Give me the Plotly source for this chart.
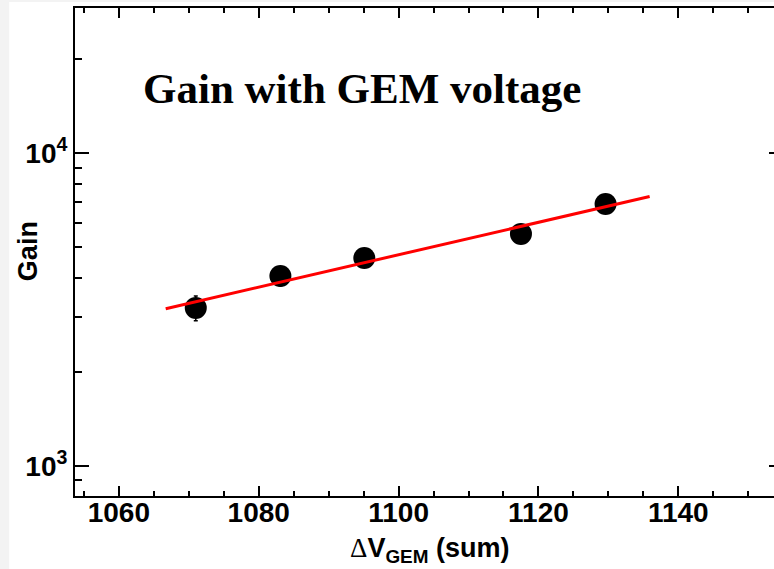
import numpy as np
import plotly.graph_objects as go

# Summed GEM voltage (V) and measured effective gain
voltage = [1071.0, 1083.1, 1095.1, 1117.5, 1129.6]
gain = [3200, 4050, 4620, 5520, 6880]
gain_err = [290, 280, 200, 200, 240]

# Range over which the exponential fit is drawn
fit_range = [1066.7, 1135.9]

y_tickvals = [1000, 10000]
y_ticktext = ["10<sup>3</sup>", "10<sup>4</sup>"]
y_minor = [900, 2000, 3000, 4000, 5000, 6000, 7000, 8000, 9000, 20000]

# Exponential fit: ln(G) = p0 + p1 * V
p1, p0 = np.polyfit(voltage, np.log(gain), 1)
v_fit = np.linspace(fit_range[0], fit_range[1], 60)
g_fit = np.exp(p0 + p1 * v_fit)

W, H = 786, 569
L, R, T, B = 75, 1, 8, 73
pw, ph = W - L - R, H - T - B

fig = go.Figure()
fig.add_trace(go.Scatter(
    x=voltage, y=gain, mode="markers",
    marker=dict(color="black", size=22, symbol="circle"),
    error_y=dict(type="data", array=gain_err, color="black", thickness=1.5, width=2),
    showlegend=False,
))
fig.add_trace(go.Scatter(
    x=v_fit, y=g_fit, mode="lines",
    line=dict(color="#ff0000", width=3),
    showlegend=False,
))

axis_font = dict(family="Liberation Sans", size=28, color="black", weight="bold")

fig.update_xaxes(
    range=[1053.73, 1154.97], tick0=1060, dtick=20,
    ticks="inside", ticklen=10, tickwidth=1.5, tickcolor="black",
    minor=dict(dtick=5, ticks="inside", ticklen=5, tickwidth=1.5, tickcolor="black"),
    showline=True, linecolor="black", linewidth=2, mirror="ticks",
    showgrid=False, zeroline=False, tickfont=axis_font, ticklabelstandoff=-10,
)
fig.update_yaxes(
    type="log", range=[2.903, 4.465],
    tickvals=y_tickvals, ticktext=y_ticktext,
    ticks="inside", ticklen=14, tickwidth=1.5, tickcolor="black",
    minor=dict(tickvals=y_minor, ticks="inside", ticklen=7, tickwidth=1.5, tickcolor="black"),
    showline=True, linecolor="black", linewidth=2, mirror="ticks",
    showgrid=False, zeroline=False, tickfont=axis_font, ticklabelstandoff=0,
)

def px_x(px):
    return (px - L) / pw

def px_y(py):
    return 1 - (py - T) / ph

fig.add_annotation(
    text="<b>Gain with GEM voltage</b>", xref="paper", yref="paper",
    x=px_x(363), y=px_y(89), xanchor="center", yanchor="middle", showarrow=False,
    font=dict(family="Liberation Serif", size=43, color="black"),
)
fig.add_annotation(
    text="Gain", xref="paper", yref="paper", textangle=-90,
    x=px_x(28), y=px_y(251), xanchor="center", yanchor="middle", showarrow=False,
    font=dict(family="Liberation Sans", size=27, color="black", weight="bold"),
)
fig.add_annotation(
    text="<span style='font-family:Liberation Serif;font-weight:normal'>Δ</span>V<sub>GEM</sub> (sum)",
    xref="paper", yref="paper",
    x=px_x(431), y=px_y(550), xanchor="center", yanchor="middle", showarrow=False,
    font=dict(family="Liberation Sans", size=27, color="black", weight="bold"),
)

# White canvas over a light grey page
fig.add_shape(
    type="rect", xref="paper", yref="paper", layer="below",
    x0=px_x(9), x1=1.2, y0=-0.3, y1=px_y(2),
    fillcolor="white", line=dict(width=0),
)

fig.update_layout(
    width=W, height=H, autosize=False,
    margin=dict(l=L, r=R, t=T, b=B, pad=0),
    paper_bgcolor="#f3f3f3", plot_bgcolor="white",
)

fig.write_html("out.html")
